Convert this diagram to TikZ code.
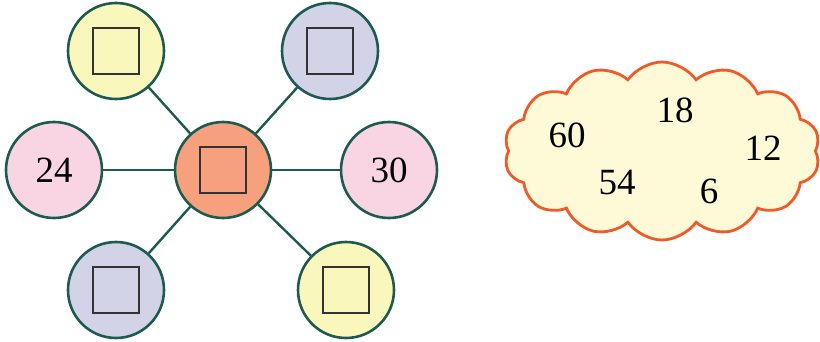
\documentclass[tikz,border=0pt]{standalone}
\usepackage{fontspec}
\setmainfont{Liberation Serif}
\usetikzlibrary{shapes.symbols}

\definecolor{ringcol}{HTML}{1D5A4F}
\definecolor{lemon}{HTML}{FAF7BD}
\definecolor{lilac}{HTML}{D2D3E7}
\definecolor{rosy}{HTML}{F9D4E3}
\definecolor{salmon}{HTML}{F7A07E}
\definecolor{cloudfill}{HTML}{FEFAD8}
\definecolor{cloudline}{HTML}{F05A28}

\tikzset{
  numcircle/.style={circle,draw=ringcol,line width=1.3pt,minimum size=48pt,inner sep=0pt,
    font=\fontsize{18.5}{20}\selectfont},
  blank/.style={draw=black!80,line width=0.8pt,minimum size=23pt,inner sep=0pt},
  spoke/.style={draw=ringcol,line width=1.2pt},
  cloudnum/.style={font=\fontsize{18.5}{20}\selectfont}
}

\begin{document}
\begin{tikzpicture}[x=0.5pt,y=-0.5pt]
\useasboundingbox (0,0) rectangle (820,342);

% hub and spokes
\node[numcircle,fill=salmon] (hub) at (223,170) {};
\node[numcircle,fill=lemon] (tl) at (116,51) {};
\node[numcircle,fill=lilac] (tr) at (330,51) {};
\node[numcircle,fill=rosy] (left) at (54,170) {24};
\node[numcircle,fill=rosy] (right) at (389,170) {30};
\node[numcircle,fill=lilac] (bl) at (116,290) {};
\node[numcircle,fill=lemon] (br) at (346,290) {};

\foreach \n in {tl,tr,left,right,bl,br}
  \draw[spoke] (hub) -- (\n);

\foreach \n in {hub,tl,tr,bl,br}
  \node[blank] at (\n) {};

% cloud of numbers
\node[cloud,cloud puffs=14,cloud puff arc=110,aspect=1.77,draw=cloudline,line width=1.4pt,
  fill=cloudfill,inner sep=0pt,minimum width=158pt,minimum height=89pt] (bag) at (662,151) {};
\node[cloudnum] (n60) at (567,135) {60};
\node[cloudnum] (n18) at (675,110) {18};
\node[cloudnum] (n12) at (763,148) {12};
\node[cloudnum] (n54) at (617,183) {54};
\node[cloudnum] (n6) at (709,191) {6};
\end{tikzpicture}
\end{document}
